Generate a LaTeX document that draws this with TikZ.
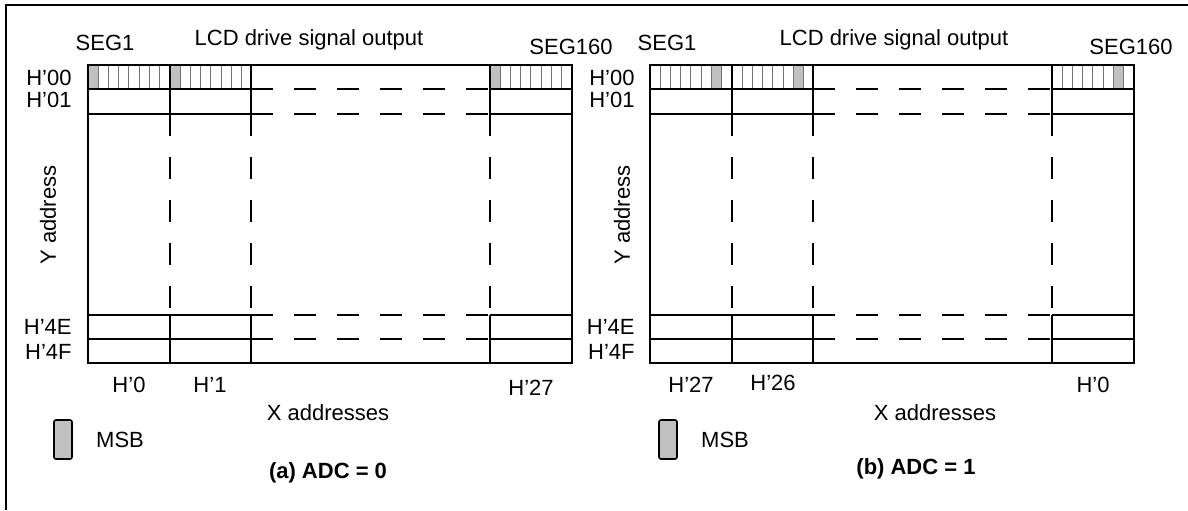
\documentclass[tikz,border=0pt]{standalone}
\usepackage{fontspec}
\setmainfont{Liberation Sans}
\usepackage{xcolor}
\usepackage{tikz}
\usetikzlibrary{positioning}
\definecolor{msbgray}{RGB}{192,192,192}

\tikzset{
  gridline/.style={line width=0.8pt},
  bitline/.style={line width=0.4pt, draw=black!55},
  gapline/.style={line width=0.8pt, dash pattern=on 11pt off 10.5pt},
  lbl/.style={font=\fontsize{11}{13}\selectfont, inner sep=0pt},
  capt/.style={font=\fontsize{11}{13}\selectfont\bfseries, inner sep=0pt},
  msbbox/.style={draw, line width=0.8pt, fill=msbgray, rounded corners=1pt,
    minimum width=9pt, minimum height=19.5pt, inner sep=0pt},
}

\begin{document}
\begin{tikzpicture}[x=0.5pt, y=-0.5pt]
  \useasboundingbox (0,0) rectangle (1188,510);
  % frame
  \draw[gridline] (6,510) -- (6,5) -- (1188,5);

  % the two memory maps, (b) shifted right, MSB bit index differs
  \foreach \px/\msb in {0/0, 562/6} {
    \begin{scope}[shift={(\px,0)}]
      \foreach \c in {88,170,490} {
        \fill[msbgray] (\c+\msb*10.2,65) rectangle ++(10.2,24);
        \foreach \b in {1,...,7}
          \draw[bitline] (\c+\b*10.2,65) -- ++(0,24);
      }
      \draw[gridline] (88,65) rectangle (572,363);
      \foreach \r in {89,114,315,339} {
        \draw[gridline] (88,\r) -- (251,\r);
        \draw[gapline] (251,\r) -- (490,\r);
        \draw[gridline] (490,\r) -- (572,\r);
      }
      \foreach \c in {170,251,490} {
        \draw[gridline] (\c,65) -- (\c,114);
        \draw[gapline] (\c,114) -- (\c,315);
        \draw[gridline] (\c,315) -- (\c,363);
      }
    \end{scope}
  }

  % (a) ADC = 0
  \node[lbl] (seg1a) at (105,43) {SEG1};
  \node[lbl] (lcda) at (309,40) {LCD drive signal output};
  \node[lbl] (seg160a) at (571,47) {SEG160};
  \node[lbl, anchor=east] (h00a) at (72,78) {H’00};
  \node[lbl, anchor=east] (h01a) at (72,100) {H’01};
  \node[lbl, anchor=east] (h4ea) at (72,327) {H’4E};
  \node[lbl, anchor=east] (h4fa) at (72,352) {H’4F};
  \node[lbl, rotate=90] (yaddra) at (48,215) {Y address};
  \node[lbl] (x0a) at (129,385) {H’0};
  \node[lbl] (x1a) at (210,385) {H’1};
  \node[lbl] (x27a) at (531,388) {H’27};
  \node[lbl] (xaddra) at (328,413) {X addresses};
  \node[msbbox] (msba) at (63,439.5) {};
  \node[lbl, right=11.5pt of msba] (msbta) {MSB};
  \node[capt] (capta) at (328,473) {(a) ADC = 0};

  % (b) ADC = 1
  \node[lbl] (seg1b) at (667,43) {SEG1};
  \node[lbl] (lcdb) at (894,40) {LCD drive signal output};
  \node[lbl] (seg160b) at (1131,47) {SEG160};
  \node[lbl, anchor=east] (h00b) at (635,78) {H’00};
  \node[lbl, anchor=east] (h01b) at (635,100) {H’01};
  \node[lbl, anchor=east] (h4eb) at (635,327) {H’4E};
  \node[lbl, anchor=east] (h4fb) at (635,352) {H’4F};
  \node[lbl, rotate=90] (yaddrb) at (622,215) {Y address};
  \node[lbl] (x27b) at (691,385) {H’27};
  \node[lbl] (x26b) at (773,383) {H’26};
  \node[lbl] (x0b) at (1093,385) {H’0};
  \node[lbl] (xaddrb) at (935,413) {X addresses};
  \node[msbbox] (msbb) at (668,439.5) {};
  \node[lbl, right=11.5pt of msbb] (msbtb) {MSB};
  \node[capt] (captb) at (916,469) {(b) ADC = 1};
\end{tikzpicture}
\end{document}
